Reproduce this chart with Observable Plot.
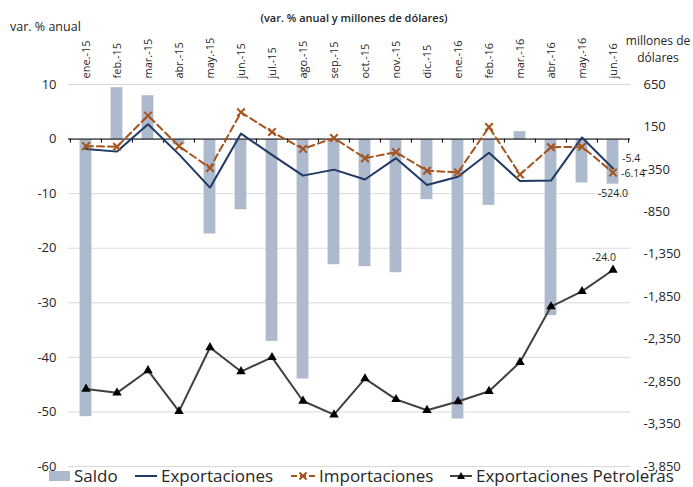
<!DOCTYPE html>
<html>
<head>
<meta charset="utf-8">
<script src="https://cdn.jsdelivr.net/npm/d3@7"></script>
<script src="https://cdn.jsdelivr.net/npm/@observablehq/plot@0.6"></script>
<style>
  html, body { margin: 0; padding: 0; background: #fff; }
  body { width: 693px; height: 487px; overflow: hidden; position: relative; font-family: "Open Sans", sans-serif; color: #262626; }
  .abs { position: absolute; white-space: nowrap; line-height: 1; }
  #chart { position: absolute; left: 0; top: 0; }
  .leg { position: absolute; top: 467px; font-size: 17px; line-height: 1; display: flex; align-items: center; white-space: nowrap; color: #262626; }
  .leg svg { margin-right: 3px; }
</style>
</head>
<body>
<div id="chart"></div>
<div class="abs" style="left:10px; top:21px; font-size:12.5px;">var. % anual</div>
<div class="abs" style="left:254px; top:12px; font-size:11px; font-weight:600; width:200px; text-align:center;">(var. % anual y millones de dólares)</div>
<div class="abs" style="left:620px; top:35px; font-size:12px; width:76px; text-align:center;">millones de</div>
<div class="abs" style="left:620px; top:52px; font-size:12px; width:76px; text-align:center;">dólares</div>

<div class="leg" style="left:49px;"><svg width="22" height="12"><rect x="0" y="1" width="21" height="10" fill="#adb9cc"/></svg>Saldo</div>
<div class="leg" style="left:134px;"><svg width="24" height="12"><line x1="1" y1="6" x2="23" y2="6" stroke="#1f3864" stroke-width="2"/></svg>Exportaciones</div>
<div class="leg" style="left:290px;"><svg width="26" height="12"><line x1="1" y1="6" x2="25" y2="6" stroke="#a5541e" stroke-width="2" stroke-dasharray="6,3"/><path d="M9.5,2.5L16.5,9.5M16.5,2.5L9.5,9.5" stroke="#a5541e" stroke-width="2"/></svg>Importaciones</div>
<div class="leg" style="left:449px;"><svg width="24" height="12"><line x1="1" y1="6" x2="23" y2="6" stroke="#404040" stroke-width="2"/><path d="M12,2L16,9L8,9Z" fill="#000"/></svg>Exportaciones Petroleras</div>

<script>
const months = ["ene.-15","feb.-15","mar.-15","abr.-15","may.-15","jun.-15","jul.-15","ago.-15","sep.-15","oct.-15","nov.-15","dic.-15","ene.-16","feb.-16","mar.-16","abr.-16","may.-16","jun.-16"];
const saldo = [-3263, 612, 518, -62, -1111, -825, -2376, -2819, -1473, -1496, -1567, -707, -3290, -774, 94, -2073, -510, -524];
const exportaciones = [-1.8, -2.3, 2.7, -2.8, -8.9, 1.0, -2.9, -6.7, -5.6, -7.4, -3.5, -8.4, -6.9, -2.5, -7.7, -7.6, 0.3, -5.4];
const importaciones = [-1.3, -1.4, 4.3, -1.3, -5.3, 4.9, 1.3, -1.8, 0.2, -3.5, -2.4, -5.8, -6.1, 2.2, -6.5, -1.5, -1.4, -6.14];
const petroleras = [-45.8, -46.5, -42.4, -49.9, -38.2, -42.6, -40.0, -48.0, -50.5, -43.9, -47.7, -49.7, -48.1, -46.2, -40.9, -30.7, -27.9, -24.0];
const leftTicks = [10, 0, -10, -20, -30, -40, -50, -60];
const rightTicks = [650, 150, -350, -850, -1350, -1850, -2350, -2850, -3350, -3850];

// map right axis (millions) onto left axis (%)
const toPct = d3.scaleLinear().domain([-3850, 650]).range([-60, 10]);
const fmtR = d3.formatLocale({decimal: ".", thousands: ",", grouping: [3], currency: ["$", ""], minus: "-"}).format(",");

const rows = months.map((m, i) => ({
  month: m, saldo: saldo[i], exp: exportaciones[i], imp: importaciones[i], pet: petroleras[i]
}));
const last = rows[rows.length - 1];

const brown = "#a5541e", navy = "#1f3864", dark = "#404040";

const chart = Plot.plot({
  width: 693, height: 487,
  marginTop: 84, marginBottom: 21, marginLeft: 68, marginRight: 63,
  style: {fontFamily: "Open Sans, sans-serif", color: "#262626", background: "transparent"},
  x: {type: "band", domain: months, paddingInner: 0, paddingOuter: 0},
  y: {domain: [-60, 10]},
  marks: [
    Plot.gridY(leftTicks, {stroke: "#d9d9d9", strokeOpacity: 1}),
    Plot.barY(rows, {x: "month", y1: () => toPct(0), y2: d => toPct(d.saldo), fill: "#adb9cc", insetLeft: 9.6, insetRight: 9.6}),
    Plot.ruleY([0], {stroke: "#000", strokeWidth: 1}),
    Plot.ruleX(months, {x: d => d, y1: 0, y2: -0.75, dx: -15.6, stroke: "#000"}),
    Plot.ruleX([months[months.length - 1]], {x: d => d, y1: 0, y2: -0.75, dx: 15.6, stroke: "#000"}),
    Plot.line(rows, {x: "month", y: "exp", stroke: navy, strokeWidth: 2}),
    Plot.line(rows, {x: "month", y: "imp", stroke: brown, strokeWidth: 2, strokeDasharray: "7,4"}),
    Plot.dot(rows, {x: "month", y: "imp", symbol: "times", r: 3.5, stroke: brown, strokeWidth: 2}),
    Plot.line(rows, {x: "month", y: "pet", stroke: dark, strokeWidth: 2}),
    Plot.dot(rows, {x: "month", y: "pet", symbol: "triangle", r: 3.5, fill: "#000"}),
    Plot.text([last], {x: "month", y: "exp", text: d => d3.format(".1f")(d.exp).replace("−", "-"), dx: 9, dy: -10, textAnchor: "start", fontSize: 10.5}),
    Plot.text([last], {x: "month", y: "imp", text: d => String(d.imp), dx: 8, dy: 1, textAnchor: "start", fontSize: 10.5}),
    Plot.text([last], {x: "month", y: d => toPct(d.saldo), text: d => d3.format(".1f")(d.saldo).replace("−", "-"), dy: 9, fontSize: 10.5}),
    Plot.text([last], {x: "month", y: "pet", text: d => d3.format(".1f")(d.pet).replace("−", "-"), dx: -9, dy: -12, fontSize: 10.5}),
    Plot.axisX({anchor: "top", tickRotate: -90, tickSize: 0, tickPadding: 6, fontSize: 11, label: null}),
    Plot.axisY(leftTicks, {anchor: "left", tickSize: 0, tickPadding: 12, fontSize: 13, label: null, tickFormat: d => String(d)}),
    Plot.axisY(rightTicks.map(toPct), {anchor: "right", tickSize: 0, tickPadding: 13, fontSize: 13, label: null, tickFormat: d => fmtR(Math.round(toPct.invert(d) / 50) * 50)})
  ]
});
document.getElementById("chart").appendChild(chart);
</script>
</body>
</html>
